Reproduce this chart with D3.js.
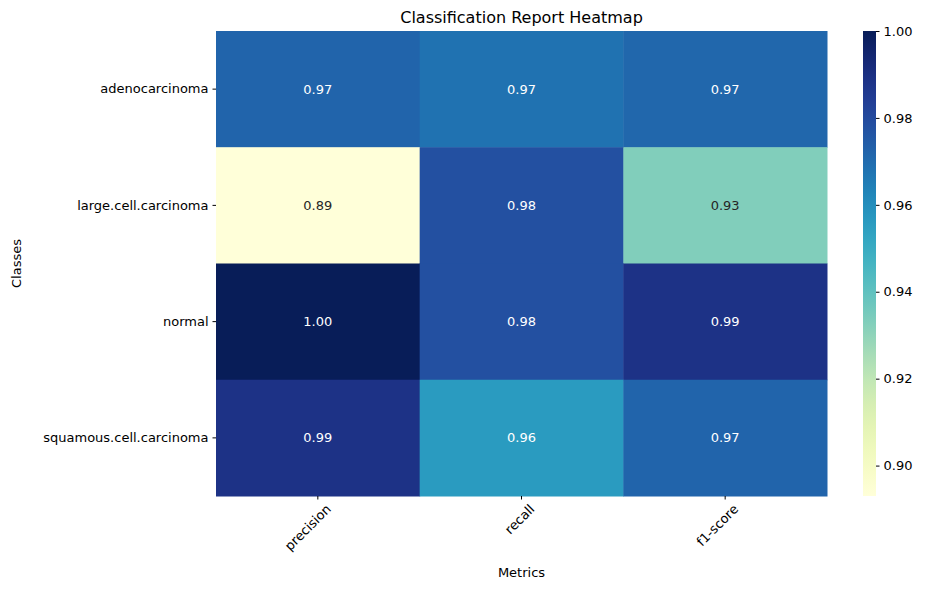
<!DOCTYPE html>
<html><head><meta charset="utf-8">
<script src="https://cdn.jsdelivr.net/npm/d3@7"></script>
<style>body{margin:0;background:#fff;font-family:"DejaVu Sans",sans-serif}</style>
</head><body><svg id="chart" width="939" height="590"></svg>
<script>
let classes = ["adenocarcinoma", "large.cell.carcinoma", "normal", "squamous.cell.carcinoma"];
let metrics = ["precision", "recall", "f1-score"];
let values = [
	[0.972, 0.968, 0.971],
	[0.893, 0.978, 0.933],
	[1.000, 0.978, 0.989],
	[0.989, 0.956, 0.972]
];
let cbTicks = [0.90, 0.92, 0.94, 0.96, 0.98, 1.00];

let svg = d3.select("#chart");
let pLeft = 216, pRight = 827, pTop = 31, pBottom = 496;
let x = d3.scaleBand().domain(metrics).range([pLeft, pRight]);
let y = d3.scaleBand().domain(classes).range([pTop, pBottom]);
let flat = values.flat();
let vmin = d3.min(flat), vmax = d3.max(flat);
let color = d3.scaleSequential(d3.interpolateYlGnBu).domain([vmin, vmax]);

let cells = [];
classes.forEach((c, i) => metrics.forEach((m, j) => cells.push({c, m, v: values[i][j]})));

svg.selectAll("rect.cell").data(cells).enter().append("rect")
	.attr("x", d => x(d.m)).attr("y", d => y(d.c))
	.attr("width", x.bandwidth() + 0.5).attr("height", y.bandwidth() + 0.5)
	.attr("fill", d => color(d.v));

let lum = function(col) {
	let c = d3.rgb(col);
	let f = v => { v /= 255; return v <= 0.03928 ? v / 12.92 : Math.pow((v + 0.055) / 1.055, 2.4); };
	return 0.2126 * f(c.r) + 0.7152 * f(c.g) + 0.0722 * f(c.b);
};

svg.selectAll("text.ann").data(cells).enter().append("text")
	.attr("x", d => x(d.m) + x.bandwidth() / 2).attr("y", d => y(d.c) + y.bandwidth() / 2)
	.attr("text-anchor", "middle").attr("dominant-baseline", "central")
	.attr("font-size", 13)
	.attr("fill", d => lum(color(d.v)) > 0.408 ? "#262626" : "#fff")
	.text(d => d.v.toFixed(2));

let yAxis = svg.append("g").attr("transform", `translate(${pLeft},0)`)
	.call(d3.axisLeft(y).tickSize(3.5).tickPadding(4));
yAxis.select(".domain").remove();
yAxis.selectAll("text").attr("font-size", 13).attr("fill", "#000").attr("font-family", "DejaVu Sans");

let xAxis = svg.append("g").attr("transform", `translate(0,${pBottom})`)
	.call(d3.axisBottom(x).tickSize(3.5).tickPadding(4));
xAxis.select(".domain").remove();
xAxis.selectAll("text").attr("font-size", 13).attr("fill", "#000").attr("font-family", "DejaVu Sans")
	.attr("text-anchor", "end").attr("dy", "0.5em")
	.attr("transform", "translate(4,4) rotate(-45)");

svg.append("text").attr("x", (pLeft + pRight) / 2).attr("y", 23).attr("text-anchor", "middle")
	.attr("font-size", 16).text("Classification Report Heatmap");
svg.append("text").attr("x", (pLeft + pRight) / 2).attr("y", 577).attr("text-anchor", "middle")
	.attr("font-size", 13).text("Metrics");
svg.append("text").attr("transform", `translate(21,${(pTop + pBottom) / 2}) rotate(-90)`)
	.attr("text-anchor", "middle").attr("font-size", 13).text("Classes");

// colorbar
let cbx = 863, cbw = 13;
let cb = d3.scaleLinear().domain([vmin, vmax]).range([pBottom, pTop]);
let grad = svg.append("defs").append("linearGradient").attr("id", "cbg")
	.attr("x1", 0).attr("y1", 1).attr("x2", 0).attr("y2", 0);
d3.range(0, 1.0001, 0.05).forEach(t => grad.append("stop").attr("offset", t).attr("stop-color", d3.interpolateYlGnBu(t)));
svg.append("rect").attr("x", cbx).attr("y", pTop).attr("width", cbw).attr("height", pBottom - pTop).attr("fill", "url(#cbg)");
let cbAxis = svg.append("g").attr("transform", `translate(${cbx + cbw},0)`)
	.call(d3.axisRight(cb).tickValues(cbTicks).tickFormat(d3.format(".2f")).tickSize(3.5).tickPadding(4));
cbAxis.select(".domain").remove();
cbAxis.selectAll("text").attr("font-size", 13).attr("fill", "#000").attr("font-family", "DejaVu Sans");
</script></body></html>
